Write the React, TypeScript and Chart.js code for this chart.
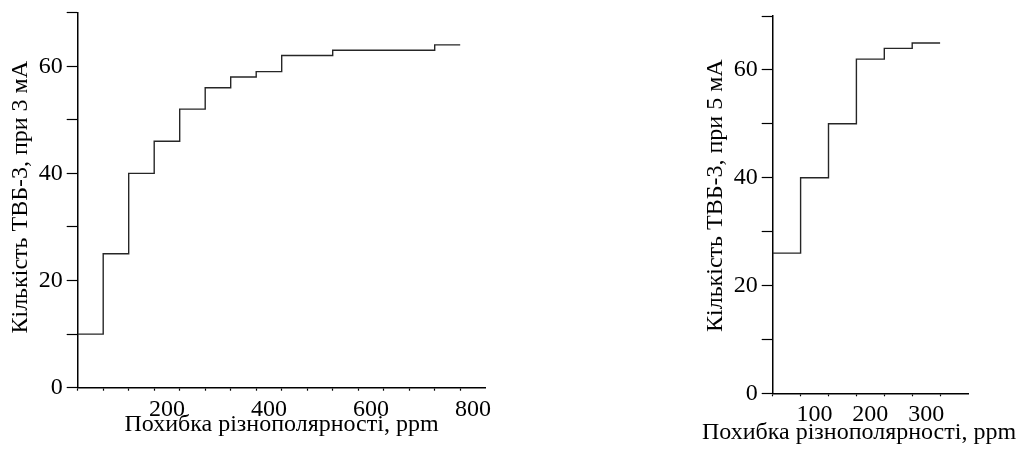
import React, { useEffect, useRef } from 'react';
import { Chart, registerables } from 'chart.js';

Chart.register(...registerables);

// ---- data ----
const leftStepX = [0, 50, 100, 150, 200, 250, 300, 350, 400, 500, 700, 750];
const leftStepY = [10, 25, 40, 46, 52, 56, 58, 59, 62, 63, 64, 64];
const rightStepX = [0, 50, 100, 150, 200, 250, 300];
const rightStepY = [26, 40, 50, 62, 64, 65, 65];

const leftXMax = 800;
const rightXMax = 350;
const yMax = 70;
const xStep = 50;
const yStep = 10;
const labelShift = 25; // tick labels sit half a minor step to the left of their tick

const leftXLabels = [200, 400, 600, 800];
const rightXLabels = [100, 200, 300];
const yLabels = [0, 20, 40, 60];

const leftYTitle = ' Кількість ТВБ-3, при 3 мА';
const rightYTitle = '   Кількість ТВБ-3, при 5 мА';
const xTitle = 'Похибка різнополярності, ppm';

const FONT = "'Liberation Serif', 'Times New Roman', serif";
const FS = 24;

type Geo = {
  canvasLeft: number;
  canvasWidth: number;
  padTop: number;
  padBottom: number;
  yWidth: number;
  rightGap: number;
  x2Height: number;
  xTickPad: number;
  titlePadTop: number;
  yTitlePad: number;
};

function makeConfig(
  xs: number[],
  ys: number[],
  xMax: number,
  xLabels: number[],
  yTitle: string,
  g: Geo
): any {
  const data = xs.map((x, i) => ({ x, y: ys[i] }));
  return {
    type: 'line',
    data: {
      datasets: [
        {
          data,
          xAxisID: 'x',
          yAxisID: 'y',
          stepped: 'before',
          borderColor: '#262626',
          borderWidth: 1.4,
          pointRadius: 0,
          fill: false,
          tension: 0,
        },
      ],
    },
    options: {
      animation: false,
      responsive: false,
      events: [],
      layout: {
        padding: { top: g.padTop, left: 0, right: 0, bottom: g.padBottom },
      },
      plugins: {
        legend: { display: false },
        tooltip: { enabled: false },
        title: {
          display: true,
          text: xTitle,
          position: 'bottom',
          color: '#000',
          font: { family: FONT, size: FS, weight: 'normal', lineHeight: 1 },
          padding: { top: g.titlePadTop, bottom: 0 },
        },
      },
      scales: {
        x: {
          type: 'linear',
          position: 'bottom',
          weight: 0,
          min: 0,
          max: xMax,
          afterFit: (s: any) => {
            s.height = 3;
          },
          border: { display: true, color: '#000', width: 1.5 },
          grid: {
            drawOnChartArea: false,
            drawTicks: true,
            tickLength: 3,
            tickWidth: 1.2,
            tickColor: (c: any) => (c.tick && c.tick.value === xMax ? 'rgba(0,0,0,0)' : '#000'),
          },
          ticks: {
            stepSize: xStep,
            autoSkip: false,
            maxRotation: 0,
            display: false,
          },
        },
        x2: {
          type: 'linear',
          position: 'bottom',
          weight: 1,
          min: labelShift,
          max: xMax + labelShift,
          afterBuildTicks: (s: any) => {
            s.ticks = xLabels.map((v) => ({ value: v }));
          },
          afterFit: (s: any) => {
            s.height = g.x2Height;
          },
          border: { display: false },
          grid: { display: false, drawTicks: false },
          ticks: {
            autoSkip: false,
            maxRotation: 0,
            minRotation: 0,
            padding: g.xTickPad,
            color: '#000',
            font: { family: FONT, size: FS, lineHeight: 1 },
            callback: (v: any) => String(v),
          },
        },
        y: {
          type: 'linear',
          position: 'left',
          min: 0,
          max: yMax,
          afterFit: (s: any) => {
            s.width = g.yWidth;
          },
          border: { display: true, color: '#000', width: 1.5 },
          grid: {
            drawOnChartArea: false,
            drawTicks: true,
            tickLength: 11,
            tickWidth: 1.2,
            tickColor: '#000',
          },
          title: {
            display: true,
            text: yTitle,
            color: '#000',
            font: { family: FONT, size: FS, weight: 'normal', lineHeight: 1 },
            padding: { top: g.yTitlePad, bottom: 0 },
          },
          ticks: {
            stepSize: yStep,
            autoSkip: false,
            padding: 4,
            color: '#000',
            font: { family: FONT, size: FS, lineHeight: 0.5 },
            callback: (v: any) => (yLabels.includes(Number(v)) ? String(v) : ''),
          },
        },
        ySpacer: {
          type: 'linear',
          position: 'right',
          afterFit: (s: any) => {
            s.width = g.rightGap;
          },
          border: { display: false },
          grid: { display: false, drawTicks: false },
          ticks: { display: false },
        },
      },
    },
  };
}

function StepChart(props: {
  xs: number[];
  ys: number[];
  xMax: number;
  xLabels: number[];
  yTitle: string;
  g: Geo;
}) {
  const ref = useRef<HTMLCanvasElement | null>(null);
  useEffect(() => {
    if (!ref.current) return;
    const chart = new Chart(
      ref.current,
      makeConfig(props.xs, props.ys, props.xMax, props.xLabels, props.yTitle, props.g)
    );
    return () => chart.destroy();
  }, []);
  return (
    <canvas
      ref={ref}
      width={props.g.canvasWidth}
      height={450}
      style={{
        position: 'absolute',
        left: props.g.canvasLeft,
        top: 0,
        width: props.g.canvasWidth,
        height: 450,
      }}
    />
  );
}

const leftGeo: Geo = {
  canvasLeft: 0,
  canvasWidth: 563,
  padTop: 12.7,
  padBottom: 13.5,
  yWidth: 77.7,
  rightGap: 77.3,
  x2Height: 33.3,
  xTickPad: 7.3,
  titlePadTop: -11.5,
  yTitlePad: 9.2,
};

const rightGeo: Geo = {
  canvasLeft: 699,
  canvasWidth: 320,
  padTop: 16,
  padBottom: 5.5,
  yWidth: 73.7,
  rightGap: 51,
  x2Height: 32.2,
  xTickPad: 6.2,
  titlePadTop: -8,
  yTitlePad: 5,
};

export default function App() {
  return (
    <div
      style={{
        position: 'absolute',
        left: 0,
        top: 0,
        width: 1019,
        height: 450,
        background: '#fff',
        overflow: 'hidden',
      }}
    >
      <StepChart xs={leftStepX} ys={leftStepY} xMax={leftXMax} xLabels={leftXLabels} yTitle={leftYTitle} g={leftGeo} />
      <StepChart xs={rightStepX} ys={rightStepY} xMax={rightXMax} xLabels={rightXLabels} yTitle={rightYTitle} g={rightGeo} />
    </div>
  );
}
